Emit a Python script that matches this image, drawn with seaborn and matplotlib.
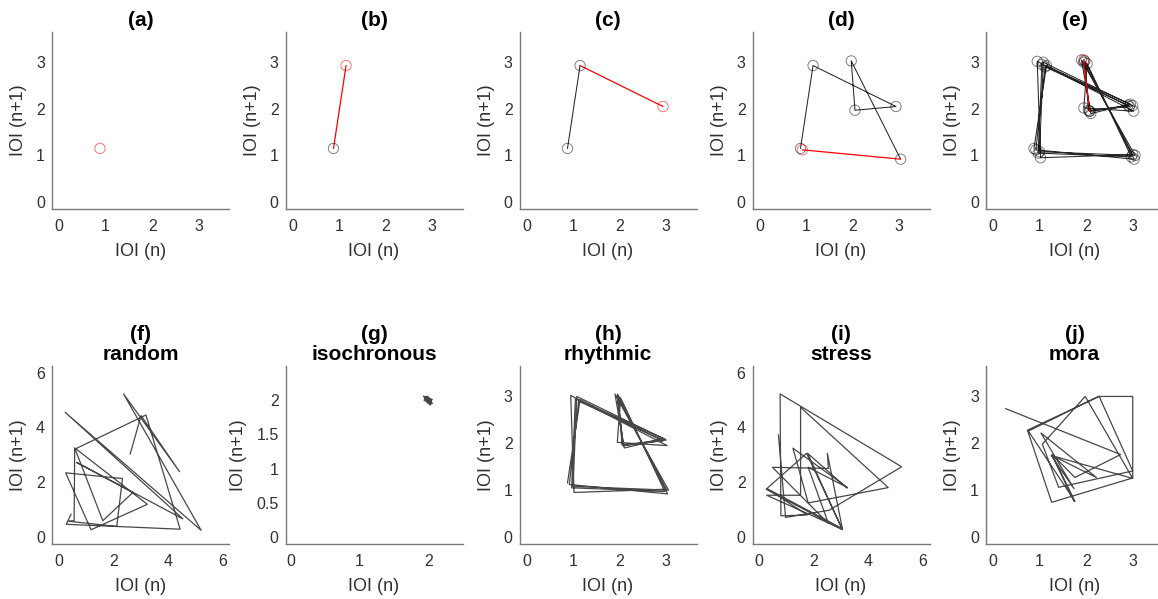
import matplotlib
matplotlib.use("Agg")
import matplotlib.pyplot as plt
import seaborn as sns
import pandas as pd

# Inter-onset intervals (s) for each sequence type
rhythm_ioi = [0.88, 1.15, 2.93, 2.05, 1.97, 3.03,
              0.92, 1.12, 2.90, 2.08, 1.95, 3.00,
              1.02, 0.95, 3.02, 1.95, 2.02, 2.97,
              0.97, 1.05, 2.95, 2.10, 1.90, 3.05,
              1.00, 1.08, 3.00, 2.07, 1.95, 3.05]
# number of IOI pairs shown in the build-up panels (a)-(e)
build_steps = [1, 2, 3, 7, len(rhythm_ioi) - 1]
build_titles = ["(a)", "(b)", "(c)", "(d)", "(e)"]

random_ioi = [2.62, 3.02, 4.43, 2.38, 5.22, 0.24, 4.55, 0.66, 2.72, 1.62,
              0.59, 3.25, 1.19, 0.26, 2.34, 2.13, 0.38, 0.57, 0.59, 3.20,
              4.45, 0.28, 0.46, 0.83]
isochronous_ioi = [2.00, 1.95, 2.05, 1.96, 2.03, 1.93, 2.06, 2.01, 1.97,
                   2.04, 1.94, 2.00, 2.05, 1.96, 2.02, 1.98, 2.06, 1.95, 2.03]
stress_ioi = [3.22, 1.78, 3.05, 0.26, 1.74, 3.05, 0.28, 1.52, 1.52, 4.73,
              1.80, 1.24, 3.24, 1.80, 2.54, 0.49, 2.54, 2.50, 3.05, 0.30,
              1.76, 0.80, 0.77, 5.22, 2.56, 0.97, 0.71, 3.73]
mora_ioi = [0.27, 2.74, 1.76, 1.27, 1.76, 0.76, 2.26, 3.00, 3.00, 1.26,
            0.74, 2.28, 3.00, 1.41, 1.06, 1.98, 3.00, 1.25, 1.74, 1.03,
            2.22, 1.27, 1.74, 0.76]

type_titles = ["(f)\nrandom", "(g)\nisochronous", "(h)\nrhythmic", "(i)\nstress", "(j)\nmora"]
type_series = [random_ioi, isochronous_ioi, rhythm_ioi, stress_ioi, mora_ioi]

small_ticks = [0, 1, 2, 3]
wide_ticks = [0, 2, 4, 6]
iso_xticks = [0, 1, 2]
iso_yticks = [0, 0.5, 1, 1.5, 2]

sns.set_theme(style="white")
plt.rcParams["font.family"] = ["Liberation Sans", "DejaVu Sans"]

TXT = "#303030"
SPINE = "#7a7a7a"


def phase_frame(ioi):
    return pd.DataFrame({"x": ioi[:-1], "y": ioi[1:], "k": range(len(ioi) - 1)})


def style_axes(ax, lim, xticks, yticks, title, ylab_x=-0.14):
    ax.set_xlim(*lim[0])
    ax.set_ylim(*lim[1])
    ax.set_xticks(xticks)
    ax.set_yticks(yticks)
    ax.set_xticklabels([f"{t:g}" for t in xticks])
    ax.set_yticklabels([f"{t:g}" for t in yticks])
    for s in ("top", "right"):
        ax.spines[s].set_visible(False)
    for s in ("left", "bottom"):
        ax.spines[s].set_color(SPINE)
        ax.spines[s].set_linewidth(1.0)
    ax.tick_params(axis="both", direction="in", length=3, width=0.8,
                   color=SPINE, labelcolor=TXT, labelsize=11.5)
    ax.tick_params(axis="x", pad=7)
    ax.tick_params(axis="y", pad=5)
    ax.set_xlabel("IOI (n)", fontsize=13, color=TXT)
    ax.set_ylabel("IOI (n+1)", fontsize=13, color=TXT)
    ax.xaxis.set_label_coords(0.5, -0.19)
    ax.yaxis.set_label_coords(ylab_x, 0.5)
    ax.set_title(title, fontsize=15, fontweight="bold", color="black",
                 pad=4, linespacing=1.1)


fig = plt.figure(figsize=(11.58, 5.99), dpi=100)
W, H = 1158, 599
lefts = [52, 285.5, 519.5, 752.5, 986]
lim3 = ((-0.15, 3.65), (-0.15, 3.65))
lim6 = ((-0.24, 6.24), (-0.26, 6.24))
limg = ((-0.08, 2.5), (-0.1, 2.5))

# top row: a rhythmic sequence built up one interval pair at a time
for i, (n, title) in enumerate(zip(build_steps, build_titles)):
    ax = fig.add_axes([lefts[i] / W, 1 - 209 / H, 177 / W, 177 / H])
    df = phase_frame(rhythm_ioi[: n + 1])
    if n > 1:
        sns.lineplot(data=df.iloc[: n - 1], x="x", y="y", sort=False,
                     estimator=None, color="black", alpha=0.85, lw=0.75, ax=ax)
        sns.lineplot(data=df.iloc[n - 2: n], x="x", y="y", sort=False,
                     estimator=None, color="red", lw=0.9, ax=ax)
    sns.scatterplot(data=df.iloc[n - 1: n], x="x", y="y", marker="o", s=55,
                    facecolor="none", edgecolor=(1, 0, 0, 0.55), linewidth=0.7,
                    ax=ax, zorder=3)
    if n > 1:
        sns.scatterplot(data=df.iloc[: n - 1], x="x", y="y", marker="o", s=55,
                        facecolor="none", edgecolor=(0, 0, 0, 0.5),
                        linewidth=0.7, ax=ax, zorder=4)
    style_axes(ax, lim3, small_ticks, small_ticks, title)

# bottom row: one phase plot per sequence type
limits = [lim6, limg, lim3, lim6, lim3]
xt = [wide_ticks, iso_xticks, small_ticks, wide_ticks, small_ticks]
yt = [wide_ticks, iso_yticks, small_ticks, wide_ticks, small_ticks]
ylx = [-0.14, -0.215, -0.14, -0.14, -0.14]
for i, (ioi, title) in enumerate(zip(type_series, type_titles)):
    ax = fig.add_axes([lefts[i] / W, 1 - 544 / H, 177 / W, 178 / H])
    df = phase_frame(ioi)
    sns.lineplot(data=df, x="x", y="y", sort=False, estimator=None,
                 color="black", alpha=0.72, lw=0.9, ax=ax)
    style_axes(ax, limits[i], xt[i], yt[i], title, ylab_x=ylx[i])

fig.savefig("out.png", dpi=100, facecolor="white")
